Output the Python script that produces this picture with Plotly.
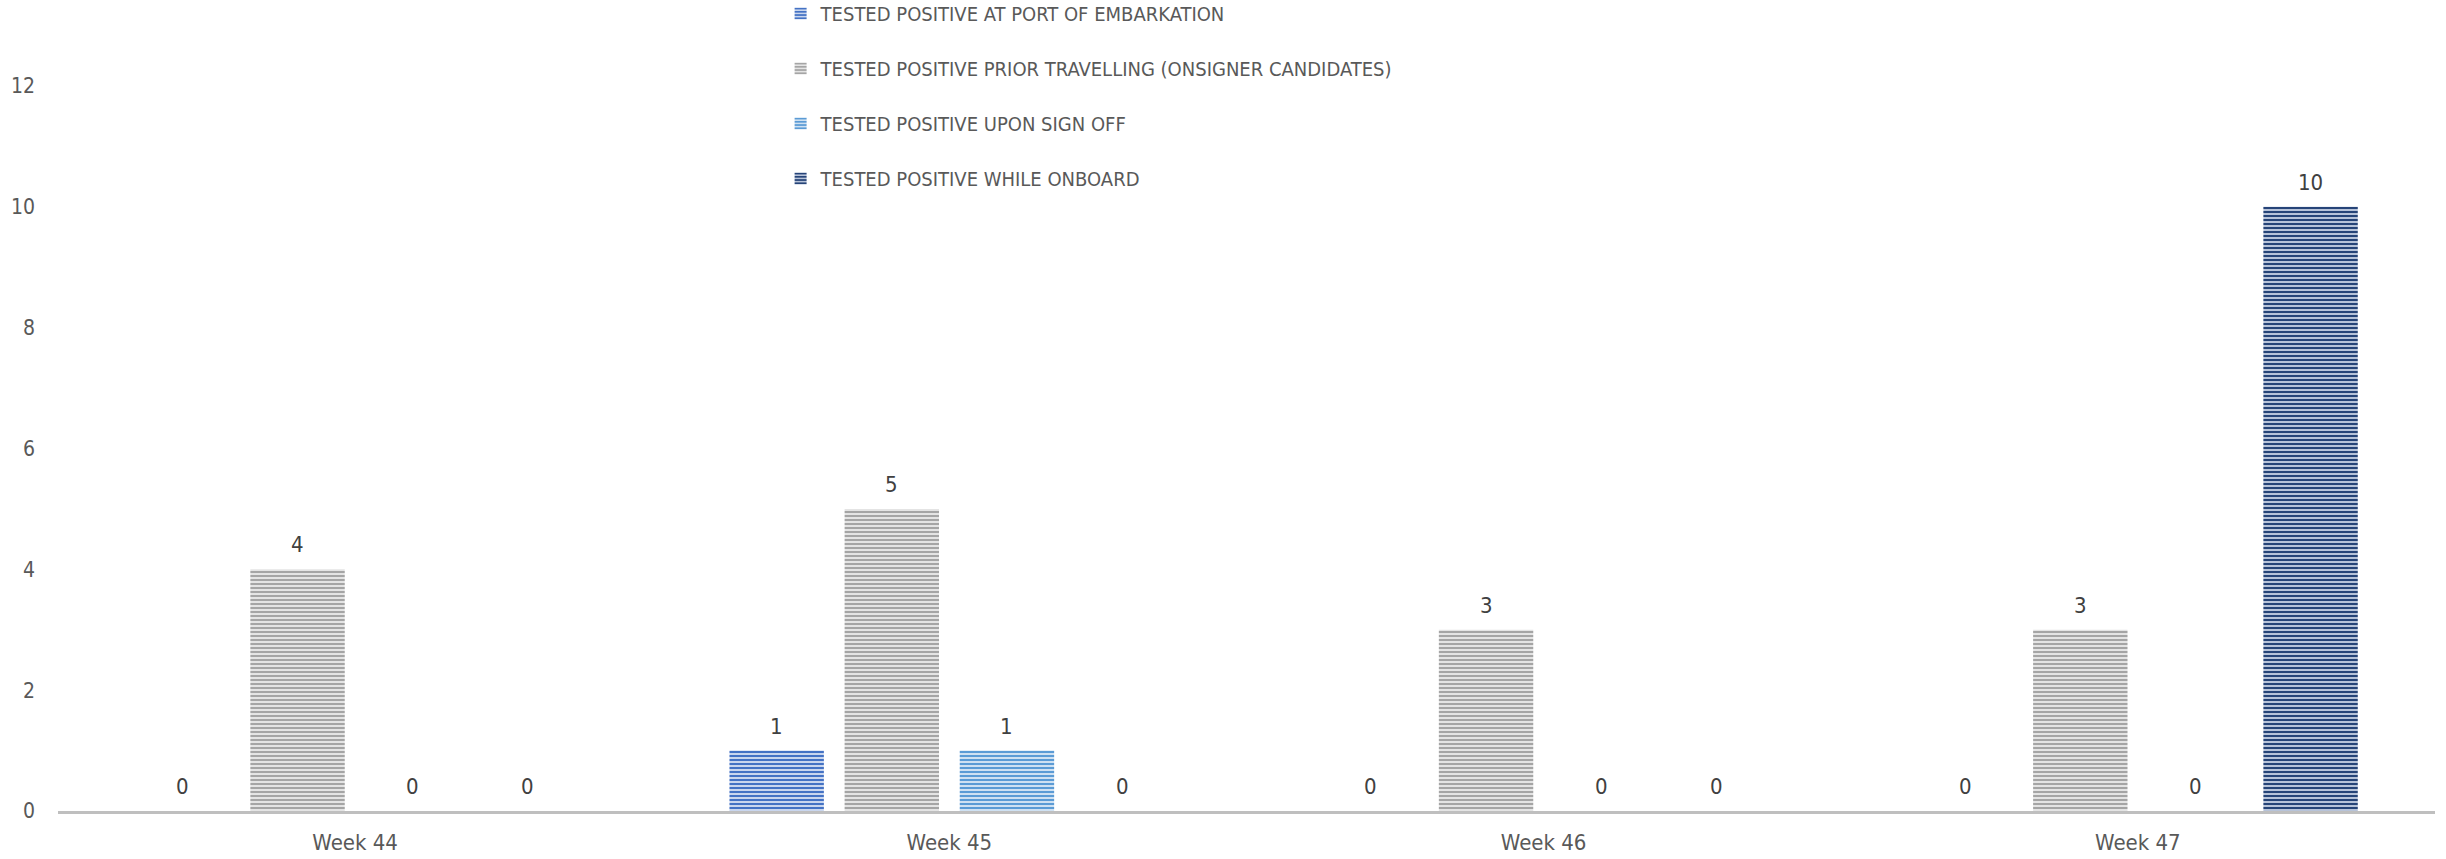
import plotly.graph_objects as go

weeks = ["Week 44", "Week 45", "Week 46", "Week 47"]
series_names = [
    "TESTED POSITIVE AT PORT OF EMBARKATION",
    "TESTED POSITIVE PRIOR TRAVELLING (ONSIGNER CANDIDATES)",
    "TESTED POSITIVE UPON SIGN OFF",
    "TESTED POSITIVE WHILE ONBOARD",
]
port_embarkation = [0, 1, 0, 0]
prior_travelling = [4, 5, 3, 3]
upon_sign_off = [0, 1, 0, 0]
while_onboard = [0, 0, 0, 10]
y_ticks = [0, 2, 4, 6, 8, 10, 12]

values = [port_embarkation, prior_travelling, upon_sign_off, while_onboard]
fg_colors = ["#4472C4", "#A5A5A5", "#5B9BD5", "#264478"]
bg_colors = ["#C9D6EE", "#E4E4E4", "#CFE1F2", "#B7C3D9"]

FONT = "Liberation Sans Narrow, DejaVu Sans Condensed, Roboto, sans-serif"

W, H = 2446, 859
ML, MR, MT, MB = 58, 11, 86, 48
BARGAP = 0.225

fig = go.Figure()
for i, (name, vals) in enumerate(zip(series_names, values)):
    fig.add_trace(go.Bar(
        x=weeks, y=vals, name=name,
        legendgroup=f"g{i}",
        marker=dict(
            color=fg_colors[i],
            line=dict(width=0),
            pattern=dict(shape="-", fgcolor=fg_colors[i], bgcolor=bg_colors[i],
                         size=4, solidity=0.5, fillmode="replace"),
        ),
    ))

# data labels placed above each bar (offset derived from group geometry)
n_series = len(values)
cat_px = (W - ML - MR) / len(weeks)
slot_px = cat_px * (1 - BARGAP) / n_series
for i, vals in enumerate(values):
    shift = (i - (n_series - 1) / 2) * slot_px
    for wk, v in zip(weeks, vals):
        fig.add_annotation(
            x=wk, y=v, xref="x", yref="y", text=str(v), showarrow=False,
            xshift=shift, yshift=10, yanchor="bottom",
            font=dict(family=FONT, size=22, color="#404040"),
        )

fig.update_layout(
    width=W, height=H,
    margin=dict(l=ML, r=MR, t=MT, b=MB, autoexpand=False),
    paper_bgcolor="white", plot_bgcolor="white",
    barmode="group", bargap=BARGAP, bargroupgap=0.18,
    showlegend=True,
    legend=dict(
        x=0.304, xref="paper", xanchor="left",
        y=1.127, yref="paper", yanchor="top",
        bgcolor="rgba(0,0,0,0)",
        font=dict(family=FONT, size=20, color="#595959"),
        tracegroupgap=26,
        itemwidth=30,
    ),
    font=dict(family=FONT, color="#595959"),
)
fig.update_xaxes(
    showline=True, linecolor="#BFBFBF", linewidth=3,
    showgrid=False, ticks="",
    ticklabelstandoff=10,
    tickfont=dict(family=FONT, size=22, color="#595959"),
)
fig.update_yaxes(
    range=[0, 12], tickvals=y_ticks,
    showline=False, showgrid=False, zeroline=False, ticks="",
    ticklabelstandoff=22,
    tickfont=dict(family=FONT, size=21, color="#595959"),
)

fig.write_html("out.html")
